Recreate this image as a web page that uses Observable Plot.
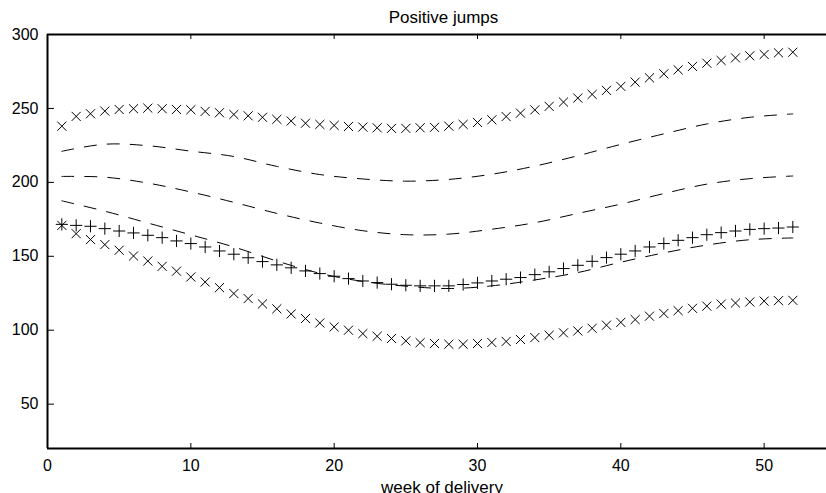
<!DOCTYPE html>
<html><head><meta charset="utf-8">
<script src="https://cdn.jsdelivr.net/npm/d3@7"></script>
<script src="https://cdn.jsdelivr.net/npm/@observablehq/plot@0.6"></script>
<style>body{margin:0;background:#fff} svg{display:block}</style>
</head><body><div id="chart"></div>
<script>
const title = "Positive jumps";
const xLabel = "week of delivery";
const xTicks = [0, 10, 20, 30, 40, 50];
const yTicks = [50, 100, 150, 200, 250, 300];

const weeks = [1,2,3,4,5,6,7,8,9,10,11,12,13,14,15,16,17,18,19,20,21,22,23,24,25,26,
  27,28,29,30,31,32,33,34,35,36,37,38,39,40,41,42,43,44,45,46,47,48,49,50,51,52];

// upper "x" marker series
const upperCross = [238,244.6,246.4,248.2,249.3,249.8,250.2,249.8,249.3,249.1,248,247.1,245.9,245,244,242.6,
  241.5,240,239.2,238.5,237.8,237.4,236.9,236.5,236.5,236.9,237.2,238,239.2,240.5,242.3,244.5,246.8,249,
  251.4,254.3,257,259.5,262.2,264.9,267.8,270.7,273.4,276.1,278.4,280.6,282.4,284.2,285.6,286.5,287.6,288];

// "+" marker series
const plusSeries = [171.6,170.9,170.3,168.7,167.1,165.8,164.2,162.6,160.4,158.6,156.3,153.6,151.4,149,146.4,144.2,
  142.2,140.1,138.3,136.5,134.9,133.3,132.2,131.1,130.4,130,130,130,130.9,132,133.3,134.5,135.6,137.6,
  139.5,141.7,143.9,146.6,149.1,151.4,153.6,156.3,158.6,160.8,162.6,164.6,166,167.1,168.2,168.7,169.1,169.8];

// lower "x" marker series
const lowerCross = [170.9,165.3,161.3,157.9,154.1,150.2,146.8,143.2,139.9,136,132.6,128.8,124.8,121.4,117.8,114.5,
  111,107.9,104.9,102.2,100,97.7,95.9,94.4,92.8,91.6,91,90.5,90.5,91,91.7,92.4,93.7,95,
  96.6,98.2,99.5,101.3,103.4,105.3,107.2,109.5,111.3,113.2,114.8,116.3,117.6,118.4,119.1,119.7,120,120.2];

// dashed curves, read every third week
const dashWeeks = [1,4,7,10,13,16,19,22,25,28,31,34,37,40,43,46,49,52];
const dashHigh = [221,225.8,224.8,221.1,217.5,210.8,205.3,202.3,200.8,202,205.5,211,218,225.7,232.8,239.5,244,246.3];
const dashMid  = [204,203.5,199.5,193.5,186.5,179,172.5,167.3,164.6,165,168.3,172.7,179,185.3,192.4,198.8,202.5,204.3];
const dashLow  = [187.5,180.5,172.5,164.5,156.3,146.8,138.5,133,129.8,128.2,130,134,139,146,152.3,157.6,161.2,162.4];

const W = 826, H = 493, mL = 47, mR = 0, mT = 34, mB = 45;
const plotW = W - mL - mR, plotH = H - mT - mB;

const rows = (xs, ys, name) => xs.map((x, i) => ({week: x, value: ys[i], series: name}));
const dashed = [
  ...rows(dashWeeks, dashHigh, "high"),
  ...rows(dashWeeks, dashMid, "mid"),
  ...rows(dashWeeks, dashLow, "low")
];
const crosses = [...rows(weeks, upperCross, "upper"), ...rows(weeks, lowerCross, "lower")];
const pluses = rows(weeks, plusSeries, "plus");

const chart = Plot.plot({
  width: W, height: H,
  marginLeft: mL, marginRight: mR, marginTop: mT, marginBottom: mB,
  style: {fontFamily: "'Liberation Sans', Arial, sans-serif", fontSize: "16px", color: "#000", background: "#fff", overflow: "hidden"},
  x: {domain: [0, 54.35]},
  y: {domain: [20, 300]},
  marks: [
    Plot.axisX({ticks: xTicks, tickSize: 0, tickPadding: 11, label: null, fontSize: 16}),
    Plot.axisY({ticks: yTicks, tickSize: 0, tickPadding: 9, label: null, fontSize: 16}),
    Plot.ruleX(xTicks, {insetTop: plotH - 5, stroke: "#000"}),
    Plot.ruleX(xTicks, {insetBottom: plotH - 5, stroke: "#000"}),
    Plot.ruleY(yTicks, {insetRight: plotW - 7, stroke: "#000"}),
    Plot.ruleY([20, 300], {stroke: "#000", strokeWidth: 2}),
    Plot.ruleX([0], {stroke: "#000", strokeWidth: 2}),
    Plot.line(dashed, {x: "week", y: "value", z: "series", stroke: "#000", strokeWidth: 1, strokeDasharray: "12,11", curve: "catmull-rom"}),
    Plot.dot(crosses, {x: "week", y: "value", symbol: "times", r: 4.2, stroke: "#000", strokeWidth: 1}),
    Plot.dot(pluses, {x: "week", y: "value", symbol: "plus", r: 4, stroke: "#000", strokeWidth: 1}),
    Plot.text([title], {frameAnchor: "top", lineAnchor: "middle", dx: 6.5, dy: -17.4, fontSize: 17, fill: "#000"}),
    Plot.text([xLabel], {frameAnchor: "bottom", lineAnchor: "middle", dx: 5, dy: 38.6, fontSize: 17, fill: "#000"})
  ]
});
document.getElementById("chart").appendChild(chart);
</script>
</body></html>
